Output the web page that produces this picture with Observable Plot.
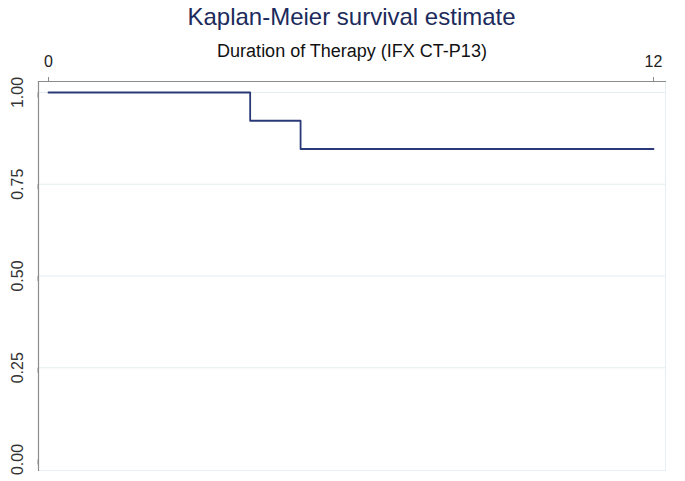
<!DOCTYPE html>
<html>
<head>
<meta charset="utf-8">
<script src="https://cdn.jsdelivr.net/npm/d3@7"></script>
<script src="https://cdn.jsdelivr.net/npm/@observablehq/plot@0.6"></script>
<style>
  html, body { margin: 0; padding: 0; background: #fff; }
  body { width: 685px; height: 481px; overflow: hidden; font-family: "Liberation Sans", Arial, sans-serif; }
  #title { width: 703px; height: 30px; line-height: 34px; font-size: 24px; color: #1c2b5c; text-align: center; overflow: visible; }
</style>
</head>
<body>
<div id="title">Kaplan-Meier survival estimate</div>
<div id="chart"></div>
<script>
const subtitle = "Duration of Therapy (IFX CT-P13)";
const times = [0, 4, 5, 12];
const survival = [1, 0.923, 0.846, 0.846];
const xTicks = [0, 12];
const yTicks = [0, 0.25, 0.5, 0.75, 1];
const gridTicks = [0.25, 0.5, 0.75, 1];

const data = times.map((t, i) => ({t, s: survival[i]}));

const chart = Plot.plot({
  width: 685,
  height: 451,
  marginTop: 51,
  marginBottom: 11,
  marginLeft: 38,
  marginRight: 20,
  style: {fontFamily: "Liberation Sans, Arial, sans-serif", fontSize: "16px", color: "#333", background: "#fff", overflow: "visible"},
  x: {domain: [0, 12], insetLeft: 10, insetRight: 12},
  y: {domain: [0, 1], insetTop: 11, insetBottom: 11},
  marks: [
    Plot.frame({stroke: "#e6eff1", strokeOpacity: 1}),
    Plot.gridY(gridTicks, {stroke: "#e3eef1", strokeOpacity: 1}),
    Plot.frame({anchor: "top", stroke: "#8c8c8c", strokeWidth: 1.2}),
    Plot.frame({anchor: "left", stroke: "#8c8c8c", strokeWidth: 1.2}),
    Plot.axisX(xTicks, {anchor: "top", tickSize: 5, tickPadding: 10, label: null, fontSize: 16, stroke: "#8c8c8c", fill: "#222"}),
    Plot.axisY(yTicks, {anchor: "left", tickSize: 5, tickPadding: 16, label: null, tickFormat: d3.format(".2f"), rotate: -90, textAnchor: "middle", fontSize: 16, stroke: "#8c8c8c", fill: "#333"}),
    Plot.text([subtitle], {frameAnchor: "top", dy: -37, fontSize: 18, fill: "#111"}),
    Plot.line(data, {x: "t", y: "s", curve: "step-after", stroke: "#2a3a78", strokeWidth: 1.8})
  ]
});
d3.select(chart).selectAll('g[aria-label$="tick label"], g[aria-label$="tick label"] text')
  .attr("font-size", 16).style("font-size", "16px");
document.getElementById("chart").appendChild(chart);
</script>
</body>
</html>
